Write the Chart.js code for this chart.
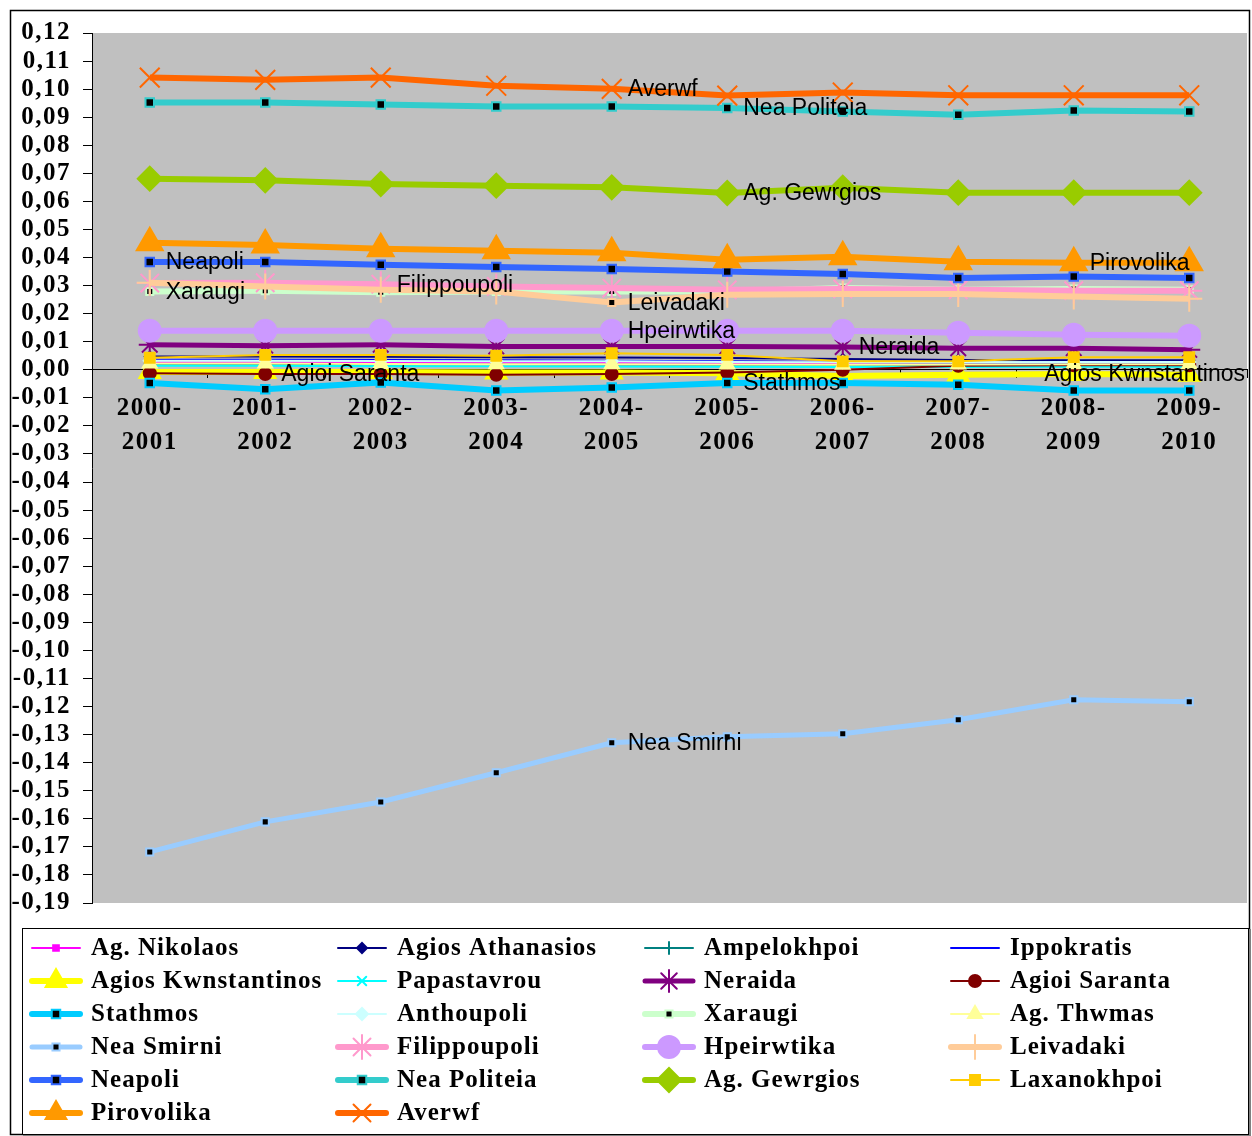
<!DOCTYPE html>
<html>
<head>
<meta charset="utf-8">
<script src="https://cdn.jsdelivr.net/npm/chart.js@4.4.1/dist/chart.umd.min.js"></script>
<style>
  html, body { margin: 0; background: #fff; overflow: hidden; }
  #wrap { width: 1264px; height: 1136px; }
</style>
</head>
<body>
<div id="wrap"><canvas id="chart" width="1264" height="1136"></canvas></div>
<script>
// categories
const periods = [
  ["2000-", "2001"], ["2001-", "2002"], ["2002-", "2003"], ["2003-", "2004"], ["2004-", "2005"],
  ["2005-", "2006"], ["2006-", "2007"], ["2007-", "2008"], ["2008-", "2009"], ["2009-", "2010"]
];

// series, in legend order
const seriesNames = [
  "Ag. Nikolaos", "Agios Athanasios", "Ampelokhpoi", "Ippokratis",
  "Agios Kwnstantinos", "Papastavrou", "Neraida", "Agioi Saranta",
  "Stathmos", "Anthoupoli", "Xaraugi", "Ag. Thwmas",
  "Nea Smirni", "Filippoupoli", "Hpeirwtika", "Leivadaki",
  "Neapoli", "Nea Politeia", "Ag. Gewrgios", "Laxanokhpoi",
  "Pirovolika", "Averwf"
];

const agNikolaos        = [0.0026, 0.0026, 0.0025, 0.0024, 0.0024, 0.0022, 0.0020, 0.0018, 0.0018, 0.0018];
const agiosAthanasios   = [0.0047, 0.0047, 0.0046, 0.0045, 0.0044, 0.0042, 0.0038, 0.0035, 0.0034, 0.0034];
const ampelokhpoi       = [0.0020, 0.0020, 0.0019, 0.0019, 0.0018, 0.0017, 0.0016, 0.0015, 0.0016, 0.0016];
const ippokratis        = [0.0036, 0.0036, 0.0035, 0.0034, 0.0032, 0.0030, 0.0028, 0.0025, 0.0024, 0.0024];
const agiosKwnstantinos = [-0.0008, -0.0008, -0.0008, -0.0010, -0.0010, -0.0012, -0.0022, -0.0018, -0.0015, -0.0018];
const papastavrou       = [0.0014, 0.0014, 0.0013, 0.0013, 0.0012, 0.0011, 0.0010, 0.0010, 0.0011, 0.0011];
const neraida           = [0.0089, 0.0086, 0.0089, 0.0083, 0.0083, 0.0083, 0.0081, 0.0077, 0.0077, 0.0071];
const agioiSaranta      = [-0.0012, -0.0015, -0.0015, -0.0018, -0.0015, -0.0010, 0.0000, 0.0014, 0.0016, 0.0016];
const stathmos          = [-0.0047, -0.0069, -0.0045, -0.0074, -0.0063, -0.0047, -0.0047, -0.0053, -0.0074, -0.0074];
const anthoupoli        = [0.0032, 0.0032, 0.0031, 0.0030, 0.0030, 0.0028, 0.0027, 0.0027, 0.0028, 0.0028];
const xaraugi           = [0.0279, 0.0282, 0.0276, 0.0279, 0.0279, 0.0279, 0.0291, 0.0285, 0.0288, 0.0285];
const agThwmas          = [0.0022, 0.0022, 0.0021, 0.0020, 0.0020, 0.0019, 0.0018, 0.0019, 0.0020, 0.0020];
const neaSmirni         = [-0.1718, -0.1611, -0.1540, -0.1436, -0.1329, -0.1308, -0.1297, -0.1247, -0.1176, -0.1183];
const filippoupoli      = [0.0309, 0.0310, 0.0305, 0.0297, 0.0291, 0.0285, 0.0288, 0.0285, 0.0282, 0.0282];
const hpeirwtika        = [0.0139, 0.0139, 0.0139, 0.0139, 0.0139, 0.0139, 0.0139, 0.0132, 0.0125, 0.0121];
const leivadaki         = [0.0310, 0.0297, 0.0285, 0.0279, 0.0240, 0.0267, 0.0270, 0.0270, 0.0261, 0.0253];
const neapoli           = [0.0384, 0.0384, 0.0374, 0.0366, 0.0359, 0.0350, 0.0341, 0.0327, 0.0332, 0.0327];
const neaPoliteia       = [0.0952, 0.0952, 0.0945, 0.0938, 0.0938, 0.0933, 0.0920, 0.0909, 0.0924, 0.0920];
const agGewrgios        = [0.0681, 0.0675, 0.0662, 0.0656, 0.0650, 0.0630, 0.0649, 0.0631, 0.0631, 0.0631];
const laxanokhpoi       = [0.0043, 0.0053, 0.0053, 0.0050, 0.0059, 0.0053, 0.0030, 0.0030, 0.0045, 0.0045];
const pirovolika        = [0.0453, 0.0445, 0.0431, 0.0424, 0.0417, 0.0392, 0.0403, 0.0385, 0.0381, 0.0381];
const averwf            = [0.1041, 0.1033, 0.1041, 0.1012, 0.1001, 0.0977, 0.0988, 0.0978, 0.0978, 0.0978];

const seriesValues = [
  agNikolaos, agiosAthanasios, ampelokhpoi, ippokratis,
  agiosKwnstantinos, papastavrou, neraida, agioiSaranta,
  stathmos, anthoupoli, xaraugi, agThwmas,
  neaSmirni, filippoupoli, hpeirwtika, leivadaki,
  neapoli, neaPoliteia, agGewrgios, laxanokhpoi,
  pirovolika, averwf
];

// y axis range / ticks
const yMin = -0.19;
const yMax = 0.12;
const yStep = 0.01;

// point labels written next to a point: [series, category index]
const pointLabels = [
  ["Averwf", 4], ["Nea Politeia", 5], ["Ag. Gewrgios", 5], ["Neapoli", 0],
  ["Xaraugi", 0], ["Filippoupoli", 2], ["Leivadaki", 4], ["Hpeirwtika", 4],
  ["Neraida", 6], ["Pirovolika", 8], ["Agioi Saranta", 1], ["Stathmos", 5],
  ["Agios Kwnstantinos", 8], ["Nea Smirni", 4]
];

// look of each series (line colour, line width, marker)
const looks = [
  { c: "#FF00FF", w: 2, p: "rect",    r: 4,  bg: "#FF00FF", bc: "#FF00FF" },
  { c: "#000080", w: 2, p: "rectRot", r: 5,  bg: "#000080", bc: "#000080" },
  { c: "#008080", w: 2, p: "cross",   r: 6,  bg: "#008080", bc: "#008080" },
  { c: "#0000FF", w: 2, p: "line",    r: 4,  bg: "#0000FF", bc: "#0000FF" },
  { c: "#FFFF00", w: 6, p: "triangle",r: 12, bg: "#FFFF00", bc: "#FFFF00" },
  { c: "#00FFFF", w: 2, p: "crossRot",r: 6,  bg: "#00FFFF", bc: "#00FFFF" },
  { c: "#800080", w: 5, p: "star",    r: 11, bg: "#800080", bc: "#800080" },
  { c: "#800000", w: 2, p: "circle",  r: 6,  bg: "#800000", bc: "#800000" },
  { c: "#00CCFF", w: 6, p: "rect",    r: 6,  bg: "#000000", bc: "#00CCFF" },
  { c: "#CCFFFF", w: 2, p: "rectRot", r: 6,  bg: "#CCFFFF", bc: "#CCFFFF" },
  { c: "#CCFFCC", w: 6, p: "rect",    r: 5,  bg: "#000000", bc: "#CCFFCC" },
  { c: "#FFFF99", w: 2, p: "triangle",r: 8,  bg: "#FFFF99", bc: "#FFFF99" },
  { c: "#99CCFF", w: 5, p: "rect",    r: 5,  bg: "#000000", bc: "#99CCFF" },
  { c: "#FF99CC", w: 6, p: "star",    r: 13, bg: "#FF99CC", bc: "#FF99CC" },
  { c: "#CC99FF", w: 6, p: "circle",  r: 11, bg: "#CC99FF", bc: "#CC99FF" },
  { c: "#FFCC99", w: 6, p: "cross",   r: 13, bg: "#FFCC99", bc: "#FFCC99" },
  { c: "#3366FF", w: 6, p: "rect",    r: 6,  bg: "#000000", bc: "#3366FF" },
  { c: "#33CCCC", w: 6, p: "rect",    r: 6,  bg: "#000000", bc: "#33CCCC" },
  { c: "#99CC00", w: 6, p: "rectRot", r: 12, bg: "#99CC00", bc: "#99CC00" },
  { c: "#FFCC00", w: 2, p: "rect",    r: 7,  bg: "#FFCC00", bc: "#FFCC00" },
  { c: "#FF9900", w: 6, p: "triangle",r: 15, bg: "#FF9900", bc: "#FF9900" },
  { c: "#FF6600", w: 6, p: "crossRot",r: 14, bg: "#FF6600", bc: "#FF6600" }
];

const serif = "'Liberation Serif', 'Times New Roman', serif";
const sans = "'Liberation Sans', Arial, sans-serif";

const datasets = seriesNames.map((name, i) => {
  const lk = looks[i];
  const ds = {
    label: name,
    data: seriesValues[i],
    borderColor: lk.c,
    borderWidth: lk.w,
    backgroundColor: lk.bg,
    pointStyle: lk.p,
    pointRadius: lk.r,
    pointHoverRadius: lk.r,
    pointBackgroundColor: lk.bg,
    pointBorderColor: lk.bc,
    pointBorderWidth: 2,
    tension: 0,
    fill: false,
    order: -i
  };
  // the 2004-2005 Leivadaki point carries a small black square in the original
  if (name === "Leivadaki") {
    ds.pointStyle = (ctx) => (ctx.dataIndex === 4 ? "rect" : "cross");
    ds.pointRadius = (ctx) => (ctx.dataIndex === 4 ? 5 : lk.r);
    ds.pointBackgroundColor = (ctx) => (ctx.dataIndex === 4 ? "#000000" : lk.bg);
  }
  return ds;
});

// background + outer frame
const framePlugin = {
  id: "frame",
  beforeDraw(chart) {
    const { ctx, chartArea: a } = chart;
    ctx.fillStyle = "#ffffff";
    ctx.fillRect(0, 0, chart.width, chart.height);
    ctx.fillStyle = "#C0C0C0";
    ctx.fillRect(a.left, a.top, a.right - a.left, a.bottom - a.top);
    ctx.strokeStyle = "#000000";
    ctx.lineWidth = 1.5;
    ctx.strokeRect(10.5, 10.5, 1239, 1124);
    // the printed original has wide letter spacing on the axis text
    ctx.letterSpacing = "1.5px";
  }
};

// text labels beside some points
const labelPlugin = {
  id: "pointLabels",
  afterDatasetsDraw(chart) {
    const { ctx, chartArea: a } = chart;
    ctx.save();
    ctx.letterSpacing = "0px";
    ctx.font = "23px " + sans;
    ctx.fillStyle = "#000000";
    ctx.textBaseline = "middle";
    pointLabels.forEach(([name, idx]) => {
      const di = seriesNames.indexOf(name);
      const pt = chart.getDatasetMeta(di).data[idx];
      let x = pt.x + 16;
      const w = ctx.measureText(name).width;
      if (x + w > a.right) x = a.right - w - 2;
      ctx.fillText(name, x, pt.y + 1);
    });
    ctx.restore();
  }
};

// boxed legend in four columns
const legendPlugin = {
  id: "boxLegend",
  afterDraw(chart) {
    const ctx = chart.ctx;
    const colX = [32, 338, 645, 951];
    const rowY0 = 948, rowStep = 33;
    ctx.save();
    ctx.strokeStyle = "#808080";
    ctx.lineWidth = 2;
    ctx.strokeRect(24, 930, 1226, 206);
    ctx.fillStyle = "#ffffff";
    ctx.fillRect(22, 928, 1226, 206);
    ctx.strokeStyle = "#000000";
    ctx.lineWidth = 1;
    ctx.strokeRect(22.5, 928.5, 1226, 206);
    ctx.font = "bold 25px " + serif;
    ctx.letterSpacing = "1px";
    ctx.textBaseline = "middle";
    seriesNames.forEach((name, i) => {
      const lk = looks[i];
      const x = colX[i % 4];
      const y = rowY0 + Math.floor(i / 4) * rowStep;
      ctx.strokeStyle = lk.c;
      ctx.lineWidth = lk.w;
      ctx.lineCap = "round";
      ctx.beginPath();
      ctx.moveTo(x, y);
      ctx.lineTo(x + 48, y);
      ctx.stroke();
      ctx.fillStyle = lk.bg;
      ctx.strokeStyle = lk.bc;
      ctx.lineWidth = 2;
      Chart.helpers.drawPoint(ctx, {
        pointStyle: lk.p,
        radius: Math.min(lk.r, 12),
        rotation: 0,
        borderWidth: 2
      }, x + 24, y);
      ctx.fillStyle = "#000000";
      ctx.fillText(name, x + 59, y + 1);
    });
    ctx.restore();
  }
};

const fmt = (v) => {
  const r = Math.round(v * 100) / 100;
  const s = Math.abs(r).toFixed(2).replace(".", ",");
  return (r < 0 ? "-" : "") + s;
};

new Chart(document.getElementById("chart").getContext("2d"), {
  type: "line",
  data: { labels: periods, datasets: datasets },
  options: {
    responsive: false,
    animation: false,
    layout: { padding: { left: 10, top: 33, right: 0, bottom: 233 } },
    plugins: {
      legend: { display: false },
      tooltip: { enabled: false }
    },
    scales: {
      x: {
        type: "category",
        offset: true,
        position: { y: 0 },
        border: { display: true, color: "#000000", width: 1 },
        grid: { display: true, drawOnChartArea: false, drawTicks: true, tickLength: 8, color: "#000000", offset: true },
        ticks: {
          color: "#000000",
          padding: 14,
          maxRotation: 0,
          autoSkip: false,
          font: { family: serif, size: 25, weight: "bold", lineHeight: 1.35 }
        }
      },
      y: {
        min: yMin,
        max: yMax,
        afterFit(scale) { scale.width = 82; },
        border: { display: true, color: "#000000", width: 1 },
        grid: { display: true, drawOnChartArea: false, drawTicks: true, tickLength: 9, color: "#000000" },
        ticks: {
          stepSize: yStep,
          color: "#000000",
          padding: 12,
          autoSkip: false,
          font: { family: serif, size: 25, weight: "bold" },
          callback: (v) => fmt(v)
        }
      }
    }
  },
  plugins: [framePlugin, labelPlugin, legendPlugin]
});
</script>
</body>
</html>
